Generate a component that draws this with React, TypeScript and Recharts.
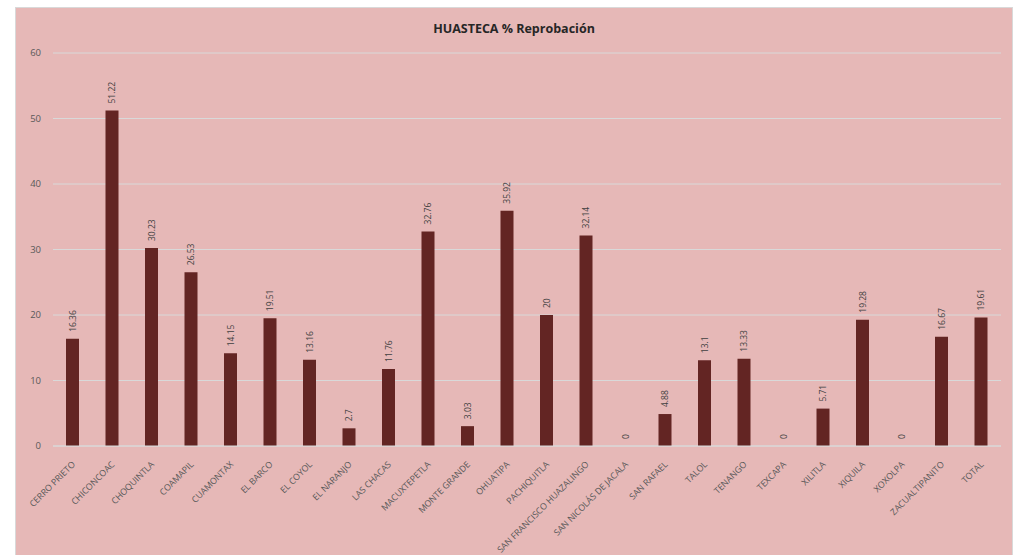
import { ComposedChart, Bar, Line, XAxis, YAxis, CartesianGrid, LabelList } from 'recharts';

document.body.style.margin = '0';

const categories = [
  'CERRO PRIETO', 'CHICONCOAC', 'CHOQUINTLA', 'COAMAPIL', 'CUAMONTAX', 'EL BARCO',
  'EL COYOL', 'EL NARANJO', 'LAS CHACAS', 'MACUXTEPETLA', 'MONTE GRANDE', 'OHUATIPA',
  'PACHIQUITLA', 'SAN FRANCISCO HUAZALINGO', 'SAN NICOLÁS DE JACALA', 'SAN RAFAEL',
  'TALOL', 'TENANGO', 'TEXCAPA', 'XILITLA', 'XIQUILA', 'XOXOLPA', 'ZACUALTIPANITO', 'TOTAL',
];

const reprobacion = [
  16.36, 51.22, 30.23, 26.53, 14.15, 19.51, 13.16, 2.7, 11.76, 32.76, 3.03, 35.92,
  20, 32.14, 0, 4.88, 13.1, 13.33, 0, 5.71, 19.28, 0, 16.67, 19.61,
];

const yTicks = [0, 10, 20, 30, 40, 50, 60];

const FONT = '"Open Sans", sans-serif';

const chartData = categories.map((name, i) => ({ name, value: reprobacion[i] }));

// rotated category labels, ending at the tick
function CategoryTick({ x, y, payload }: any) {
  return (
    <text
      x={x + 3}
      y={y + 11}
      transform={`rotate(-45 ${x + 3} ${y + 11})`}
      textAnchor="end"
      fill="#595959"
      fontSize={8.8}
      fontFamily={FONT}
    >
      {payload.value}
    </text>
  );
}

// vertical value label above each bar (x, y = top centre of the bar)
function ValueLabel({ x, y, value }: any) {
  const cx = x + 3;
  const cy = y - 7;
  return (
    <text
      x={cx}
      y={cy}
      transform={`rotate(-90 ${cx} ${cy})`}
      textAnchor="start"
      fill="#404040"
      fontSize={8.5}
      fontFamily={FONT}
    >
      {String(value)}
    </text>
  );
}

export default function App() {
  return (
    <div style={{ width: 1032, height: 555, background: '#fff', position: 'relative', overflow: 'hidden' }}>
      <div
        style={{
          position: 'absolute',
          left: 15,
          top: 7,
          width: 998,
          height: 560,
          background: '#E6B8B7',
          border: '1px solid #D9D9D9',
          boxSizing: 'border-box',
        }}
      >
        <div
          style={{
            position: 'absolute',
            top: 12,
            width: '100%',
            textAlign: 'center',
            fontFamily: FONT,
            fontWeight: 'bold',
            fontSize: 12.5,
            color: '#262626',
          }}
        >
          HUASTECA % Reprobación
        </div>
        <ComposedChart
          width={998}
          height={548}
          data={chartData}
          margin={{ top: 45, right: 13, left: 0, bottom: 0 }}
        >
          <CartesianGrid vertical={false} stroke="#D9D9D9" />
          <XAxis
            dataKey="name"
            interval={0}
            height={110}
            tickLine={false}
            axisLine={{ stroke: '#D9D9D9' }}
            tick={<CategoryTick />}
          />
          <YAxis
            width={37}
            domain={[0, 60]}
            ticks={yTicks}
            axisLine={false}
            tickLine={false}
            tickMargin={6}
            tick={{ fill: '#595959', fontSize: 9.5, fontFamily: FONT }}
          />
          <Bar dataKey="value" fill="#632523" barSize={13} isAnimationActive={false} />
          <Line
            dataKey="value"
            stroke="none"
            dot={false}
            activeDot={false}
            legendType="none"
            isAnimationActive={false}
          >
            <LabelList dataKey="value" content={<ValueLabel />} />
          </Line>
        </ComposedChart>
      </div>
    </div>
  );
}
